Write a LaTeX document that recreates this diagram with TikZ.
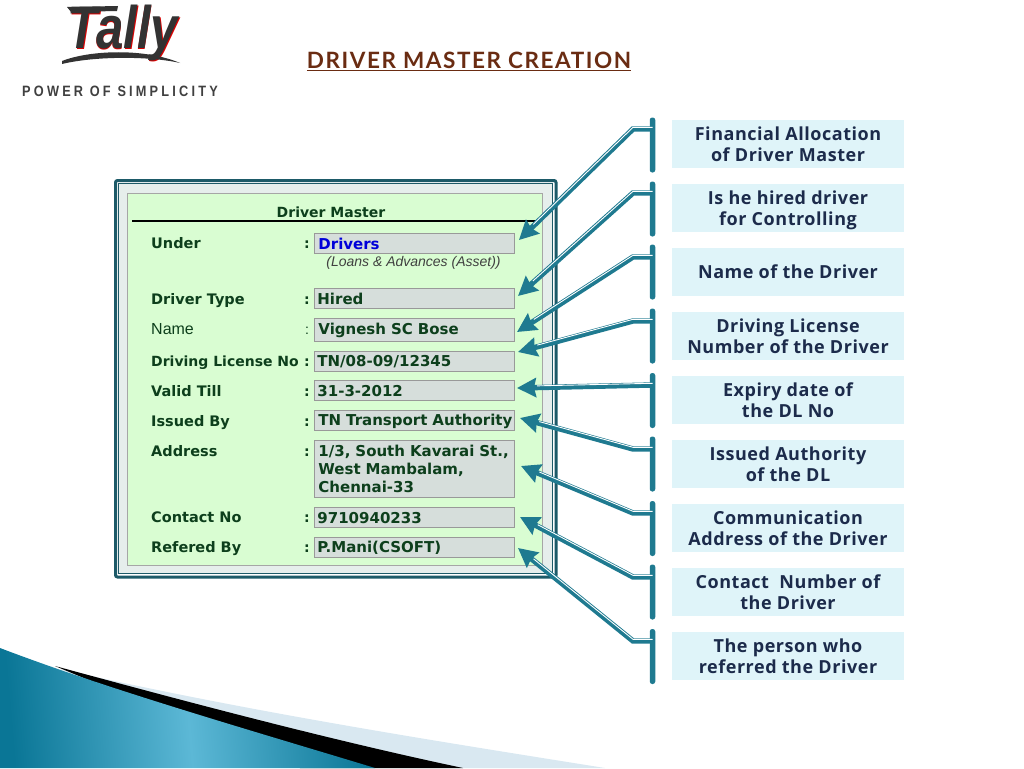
\documentclass[tikz,border=0pt]{standalone}
\usepackage{fontspec}
\usetikzlibrary{arrows.meta,positioning}
\newfontfamily\formfont{DejaVu Sans}
\newfontfamily\namefont{Liberation Sans}
\newfontfamily\notefont[LetterSpace=3]{Open Sans}
\newfontfamily\titlefont[LetterSpace=7]{Lato}
\newfontfamily\tagfont[LetterSpace=25]{Liberation Sans}
\newcommand\fieldstrut{\rule[-1pt]{0pt}{14pt}}
\definecolor{tealline}{HTML}{1F7A90}
\definecolor{framedark}{HTML}{1D5A68}
\definecolor{framefill}{HTML}{E6EEEC}
\definecolor{formgreen}{HTML}{0D3F1C}
\definecolor{notenavy}{HTML}{1C2B4B}
\definecolor{titlebrown}{HTML}{6A2C12}
\definecolor{notefill}{HTML}{DFF4F9}
\definecolor{panelgreen}{HTML}{D9FDD2}
\definecolor{fieldgray}{HTML}{D6DEDB}
\definecolor{swooshpale}{HTML}{D9E8F1}
\definecolor{swooshdeep}{HTML}{0A7696}
\definecolor{swooshlight}{HTML}{5CB8D6}
\begin{document}
\begin{tikzpicture}[x=1pt,y=-1pt,
  note/.style={fill=notefill,text=notenavy,minimum width=232pt,minimum height=48pt,inner sep=0pt,text depth=0pt,align=center,font=\notefont\bfseries\fontsize{18}{21}\selectfont},
  bar/.style={fill=tealline,rounded corners=2.5pt,minimum width=5.5pt,minimum height=55pt,inner sep=0pt},
  field/.style={draw=black!40,line width=.8pt,fill=fieldgray,text=formgreen,anchor=north west,minimum width=200pt,inner sep=0pt,text width=198pt,align=left,font=\formfont\bfseries\fontsize{15}{18}\selectfont},
  caption/.style={anchor=west,inner sep=0pt,text height=10.5pt,text depth=0pt,text=formgreen,font=\formfont\bfseries\fontsize{14.5}{16}\selectfont},
  colon/.style={inner sep=0pt,text height=10.5pt,text depth=0pt,text=formgreen,font=\formfont\bfseries\fontsize{14}{16}\selectfont},
  callout/.style={draw=tealline,line width=5.4pt,-{Stealth[length=19pt,width=19pt,inset=2pt]},
    postaction={draw=white,line width=.9pt,arrows=-,shorten >=20pt,transform canvas={yshift=1.7pt}}}]
\useasboundingbox (0,0) rectangle (1024,768); %%
% swoosh in the bottom corner
\fill[swooshpale] (60,669) .. controls (250,712) and (430,740) .. (605,768) -- (300,768) -- cycle; %%
\fill[black] (55,666) .. controls (180,700) and (330,740) .. (463,768) -- (300,768) -- cycle; %%
\shade[left color=swooshdeep,right color=swooshdeep,middle color=swooshlight,shading angle=95] (0,648) .. controls (110,690) and (250,730) .. (375,768) -- (0,768) -- cycle; %%
% logo and heading
\node[inner sep=0pt,xscale=.82,text=red!85!black,font=\namefont\bfseries\itshape\fontsize{60}{60}\selectfont] (logoShadow) at (123.8,33.8) {Tally}; %%
\node[inner sep=0pt,xscale=.82,text=black!80,font=\namefont\bfseries\itshape\fontsize{60}{60}\selectfont] (logoText) at (123,33) {Tally}; %%
\fill[black!80] (62,61) .. controls (90,50) and (145,48) .. (180,63) .. controls (150,56) and (95,56) .. (62,64) -- cycle; %%
\fill[black!80] (67,7) -- (118,6) -- (117,11) -- (71,12) -- cycle; %%
\node[inner sep=0pt,xscale=.85,text=black!75,font=\tagfont\bfseries\fontsize{15}{18}\selectfont] (tagLine) at (120,91) {POWER OF SIMPLICITY}; %%
\node[inner sep=0pt,text=titlebrown,font=\titlefont\bfseries\fontsize{22.5}{28}\selectfont] (heading) at (469,61) {\underline{DRIVER MASTER CREATION}}; %%
% the form
\draw[draw=framedark,line width=3pt,fill=white,rounded corners=2pt] (115.5,180.5) rectangle (556,577); %%
\draw[draw=framedark,line width=.8pt,fill=framefill] (118.5,183.5) rectangle (552.5,573); %%
\node[draw=black!35,line width=1pt,fill=panelgreen,anchor=north west,inner sep=0pt,minimum width=415pt,minimum height=372pt] (panel) at (127,193) {}; %%
\node[inner sep=0pt,text=formgreen,font=\formfont\bfseries\fontsize{14}{16}\selectfont] (formTitle) at (331,212) {Driver Master}; %%
\coordinate (ruleLeft) at (132,221); %%
\coordinate (ruleRight) at (537,221); %%
\draw[line width=1.4pt] (ruleLeft) -- (ruleRight); %%
\node[caption] (capUnder) at (151,243) {Under}; %%
\node[caption] (capType) at (151,299) {Driver Type}; %%
\node[caption,font=\namefont\fontsize{16}{18}\selectfont] (capName) at (151,329) {Name}; %%
\node[caption,font=\formfont\bfseries\fontsize{14}{16}\selectfont] (capLicense) at (151,361) {Driving License No}; %%
\node[caption] (capValid) at (151,391) {Valid Till}; %%
\node[caption] (capIssued) at (151,421) {Issued By}; %%
\node[caption] (capAddress) at (151,451) {Address}; %%
\node[caption] (capContact) at (151,517) {Contact No}; %%
\node[caption] (capRefered) at (151,547) {Refered By}; %%
\node[colon] (colUnder) at (307,243) {:}; %%
\node[colon] (colType) at (307,299) {:}; %%
\node[colon,font=\namefont\fontsize{14}{16}\selectfont] (colName) at (307,329) {:}; %%
\node[colon] (colLicense) at (307,361) {:}; %%
\node[colon] (colValid) at (307,391) {:}; %%
\node[colon] (colIssued) at (307,421) {:}; %%
\node[colon] (colAddress) at (307,451) {:}; %%
\node[colon] (colContact) at (307,517) {:}; %%
\node[colon] (colRefered) at (307,547) {:}; %%
\node[field,minimum height=19.5pt,text=blue!85!black] (fieldUnder) at (314,233) {\hspace*{3pt}Drivers\fieldstrut}; %%
\node[inner sep=0pt,text=black!75,font=\namefont\itshape\fontsize{14}{16}\selectfont] (fieldNote) at (413.5,263) {(Loans \& Advances (Asset))}; %%
\node[field,minimum height=20pt] (fieldType) at (314,288) {\hspace*{2pt}Hired\fieldstrut}; %%
\node[field,minimum height=23pt] (fieldName) at (314,318) {\hspace*{3pt}Vignesh SC Bose\fieldstrut}; %%
\node[field,minimum height=20pt] (fieldLicense) at (314,350.5) {\hspace*{2pt}TN/08-09/12345\fieldstrut}; %%
\node[field,minimum height=20pt] (fieldValid) at (314,380) {\hspace*{2pt}31-3-2012\fieldstrut}; %%
\node[field,minimum height=20pt] (fieldIssued) at (314,410) {\hspace*{3pt}TN Transport Authority\fieldstrut}; %%
\node[field,minimum height=57pt] (fieldAddress) at (314,440) {\hspace*{3pt}1/3, South Kavarai St.,\\\hspace*{3pt}West Mambalam,\\\hspace*{3pt}Chennai-33}; %%
\node[field,minimum height=20pt] (fieldContact) at (314,507) {\hspace*{2pt}9710940233\fieldstrut}; %%
\node[field,minimum height=20pt] (fieldRefered) at (314,537) {\hspace*{2pt}P.Mani(CSOFT)\fieldstrut}; %%
% notes on the right
\node[note] (noteUnder) at (788,144) {Financial Allocation\\of Driver Master}; %%
\node[note] (noteType) at (788,208) {Is he hired driver\\for Controlling}; %%
\node[note] (noteName) at (788,272) {Name of the Driver}; %%
\node[note] (noteLicense) at (788,336) {Driving License\\Number of the Driver}; %%
\node[note] (noteValid) at (788,400) {Expiry date of\\the DL No}; %%
\node[note] (noteIssued) at (788,464) {Issued Authority\\of the DL}; %%
\node[note] (noteAddress) at (788,528) {Communication\\Address of the Driver}; %%
\node[note] (noteContact) at (788,592) {Contact~ Number of\\the Driver}; %%
\node[note] (noteRefered) at (788,656) {The person who\\referred the Driver}; %%
\node[bar] (barUnder) at (652.5,145) {}; %%
\node[bar] (barType) at (652.5,209) {}; %%
\node[bar] (barName) at (652.5,272) {}; %%
\node[bar] (barLicense) at (652.5,336) {}; %%
\node[bar] (barValid) at (652.5,400.5) {}; %%
\node[bar] (barIssued) at (652.5,464) {}; %%
\node[bar] (barAddress) at (652.5,528.5) {}; %%
\node[bar] (barContact) at (652.5,592) {}; %%
\node[bar] (barRefered) at (652.5,656.5) {}; %%
% elbows and arrow ends
\coordinate (bendUnder) at (633,129); \coordinate (tipUnder) at (519,240); %%
\coordinate (bendType) at (633,193); \coordinate (tipType) at (518,296); %%
\coordinate (bendName) at (633,257); \coordinate (tipName) at (517,332); %%
\coordinate (bendLicense) at (633,321); \coordinate (tipLicense) at (518,352); %%
\coordinate (bendValid) at (633,385); \coordinate (tipValid) at (517,388); %%
\coordinate (bendIssued) at (633,449); \coordinate (tipIssued) at (520,418); %%
\coordinate (bendAddress) at (633,513); \coordinate (tipAddress) at (521,466); %%
\coordinate (bendContact) at (633,577); \coordinate (tipContact) at (520,517); %%
\coordinate (bendRefered) at (633,641); \coordinate (tipRefered) at (518,548); %%
\draw[callout] (barUnder.center |- bendUnder) -- (bendUnder) -- (tipUnder); %%
\draw[callout] (barType.center |- bendType) -- (bendType) -- (tipType); %%
\draw[callout] (barName.center |- bendName) -- (bendName) -- (tipName); %%
\draw[callout] (barLicense.center |- bendLicense) -- (bendLicense) -- (tipLicense); %%
\draw[callout] (barValid.center |- bendValid) -- (tipValid); %%
\draw[callout] (barIssued.center |- bendIssued) -- (bendIssued) -- (tipIssued); %%
\draw[callout] (barAddress.center |- bendAddress) -- (bendAddress) -- (tipAddress); %%
\draw[callout] (barContact.center |- bendContact) -- (bendContact) -- (tipContact); %%
\draw[callout] (barRefered.center |- bendRefered) -- (bendRefered) -- (tipRefered); %%
\end{tikzpicture}
\end{document}
